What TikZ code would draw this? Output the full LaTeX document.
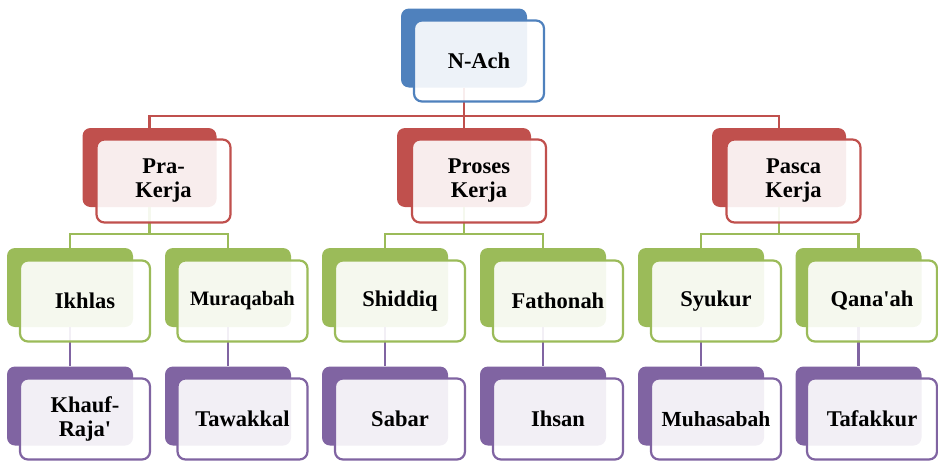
\documentclass[tikz,border=0pt]{standalone}
\usepackage{fontspec}
\setmainfont{Liberation Serif}
\definecolor{achblue}{HTML}{4F81BD}
\definecolor{kerjared}{HTML}{C0504D}
\definecolor{sifatgreen}{HTML}{9BBB59}
\definecolor{akhlakpurple}{HTML}{8064A2}

\begin{document}
\begin{tikzpicture}[x=1pt,y=-1pt,
    shadowbox/.style={fill=#1, rounded corners=8pt, inner sep=0pt,
        minimum width=126pt, minimum height=79pt},
    labelbox/.style={draw=#1, line width=2.2pt, fill=white, fill opacity=0.9,
        text opacity=1, rounded corners=8pt, inner sep=0pt,
        minimum width=130pt, minimum height=81pt, align=center,
        font=\bfseries\fontsize{22.5}{24}\selectfont},
    wide/.style={minimum width=134pt},
    link/.style={draw=#1, line width=2.4pt}]
    \useasboundingbox (0,0) rectangle (938,461);

    % back boxes
    \node[shadowbox=achblue] (nachb) at (464,48) {};
    \node[shadowbox=kerjared,wide] (prab) at (149.5,167.5) {};
    \node[shadowbox=kerjared,wide] (prosesb) at (464,167.5) {};
    \node[shadowbox=kerjared,wide] (pascab) at (779,167.5) {};
    \node[shadowbox=sifatgreen] (ikhlasb) at (70,287.5) {};
    \node[shadowbox=sifatgreen] (muraqabahb) at (228,287.5) {};
    \node[shadowbox=sifatgreen] (shiddiqb) at (385,287.5) {};
    \node[shadowbox=sifatgreen] (fathonahb) at (543,287.5) {};
    \node[shadowbox=sifatgreen] (syukurb) at (701,287.5) {};
    \node[shadowbox=sifatgreen] (qanaahb) at (858.5,287.5) {};
    \node[shadowbox=akhlakpurple] (khaufb) at (70,406) {};
    \node[shadowbox=akhlakpurple] (tawakkalb) at (228,406) {};
    \node[shadowbox=akhlakpurple] (sabarb) at (385,406) {};
    \node[shadowbox=akhlakpurple] (ihsanb) at (543,406) {};
    \node[shadowbox=akhlakpurple] (muhasabahb) at (701,406) {};
    \node[shadowbox=akhlakpurple] (tafakkurb) at (858.5,406) {};

    % connectors
    \draw[link=kerjared] (nachb.south) -- ++(0,28) -| (prab.north);
    \draw[link=kerjared] (nachb.south) -- (prosesb.north);
    \draw[link=kerjared] (nachb.south) -- ++(0,28) -| (pascab.north);
    \draw[link=sifatgreen] (prab.south) -- ++(0,27) -| (ikhlasb.north);
    \draw[link=sifatgreen] (prab.south) -- ++(0,27) -| (muraqabahb.north);
    \draw[link=sifatgreen] (prosesb.south) -- ++(0,27) -| (shiddiqb.north);
    \draw[link=sifatgreen] (prosesb.south) -- ++(0,27) -| (fathonahb.north);
    \draw[link=sifatgreen] (pascab.south) -- ++(0,27) -| (syukurb.north);
    \draw[link=sifatgreen] (pascab.south) -- ++(0,27) -| (qanaahb.north);
    \draw[link=akhlakpurple] (ikhlasb.south) -- (khaufb.north);
    \draw[link=akhlakpurple] (muraqabahb.south) -- (tawakkalb.north);
    \draw[link=akhlakpurple] (shiddiqb.south) -- (sabarb.north);
    \draw[link=akhlakpurple] (fathonahb.south) -- (ihsanb.north);
    \draw[link=akhlakpurple] (syukurb.south) -- (muhasabahb.north);
    \draw[link=akhlakpurple] (qanaahb.south) -- (tafakkurb.north);

    % front boxes
    \node[labelbox=achblue] (nach) at (479,61) {N-Ach};
    \node[labelbox=kerjared,wide,minimum height=83pt] (pra) at (163.5,181) {Pra-\\Kerja};
    \node[labelbox=kerjared,wide,minimum height=83pt] (proses) at (479,181) {Proses\\Kerja};
    \node[labelbox=kerjared,wide,minimum height=83pt] (pasca) at (793.5,181) {Pasca\\Kerja};
    \node[labelbox=sifatgreen] (ikhlas) at (85,301) {Ikhlas};
    \node[labelbox=sifatgreen,font=\bfseries\fontsize{20.5}{24}\selectfont] (muraqabah) at (242.5,301) {Muraqabah};
    \node[labelbox=sifatgreen] (shiddiq) at (400,301) {Shiddiq};
    \node[labelbox=sifatgreen] (fathonah) at (558,301) {Fathonah};
    \node[labelbox=sifatgreen] (syukur) at (716,301) {Syukur};
    \node[labelbox=sifatgreen] (qanaah) at (872,301) {Qana\textquotesingle ah};
    \node[labelbox=akhlakpurple] (khauf) at (85,419) {Khauf-\\Raja\textquotesingle};
    \node[labelbox=akhlakpurple] (tawakkal) at (242.5,419) {Tawakkal};
    \node[labelbox=akhlakpurple] (sabar) at (400,419) {Sabar};
    \node[labelbox=akhlakpurple] (ihsan) at (558,419) {Ihsan};
    \node[labelbox=akhlakpurple,font=\bfseries\fontsize{21.5}{24}\selectfont] (muhasabah) at (716,419) {Muhasabah};
    \node[labelbox=akhlakpurple] (tafakkur) at (872,419) {Tafakkur};
\end{tikzpicture}
\end{document}
